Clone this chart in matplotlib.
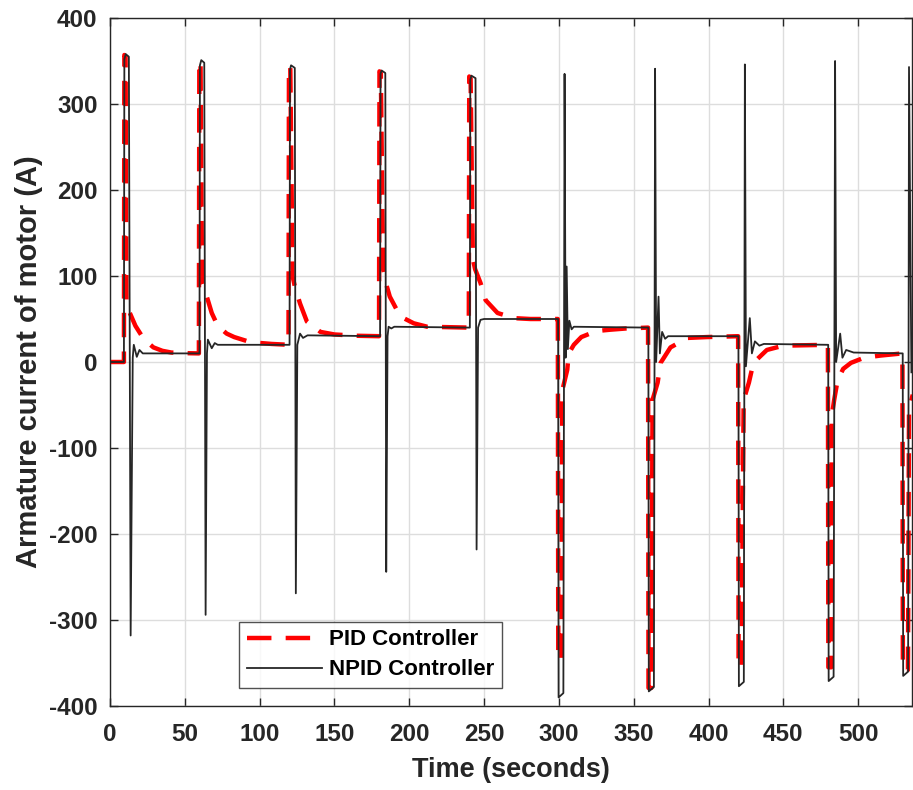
import matplotlib
matplotlib.use("Agg")
import matplotlib.pyplot as plt

plt.rcParams['font.family'] = ['Liberation Sans', 'DejaVu Sans']
plt.rcParams['font.weight'] = 'bold'
plt.rcParams['axes.unicode_minus'] = False

# PID controller armature current, breakpoints (time s, current A)
pid_t = [0, 9.3,
         9.6, 10.4, 11.0, 14.0, 17.0, 21.0, 25.0, 29.0, 35.0, 41.0, 50.0, 59.4,
         59.7, 60.5, 61.5, 64.7, 68.0, 72.0, 78.0, 83.0, 94.0, 108.0, 119.3,
         119.6, 120.5, 122.0, 123.5, 127.0, 131.6, 140.6, 150.0, 165.0, 179.8,
         180.1, 181.0, 182.5, 185.0, 187.0, 194.0, 203.0, 212.0, 239.8,
         240.1, 241.0, 242.5, 244.0, 247.6, 251.0, 259.0, 270.0, 281.0, 299.3,
         299.6, 301.6, 302.3, 305.6, 306.6, 310.0, 315.0, 325.0, 334.0, 345.0, 359.6,
         359.9, 361.8, 362.6, 366.0, 368.0, 374.6, 386.0, 399.0, 419.8,
         420.1, 422.0, 423.5, 427.0, 430.0, 439.0, 450.0, 479.8,
         480.1, 482.0, 482.3, 484.0, 486.3, 490.0, 495.2, 504.0, 515.0, 529.6,
         529.9, 533.3, 534.0, 536.5]
pid_i = [0, 0,
         357, 355, 66, 54, 42, 31, 23, 17, 13, 11, 10.3, 10,
         350, 348, 95, 76, 57, 42, 33, 29, 23, 21, 20,
         344, 342, 100, 88, 68, 47, 35, 32, 30.5, 30,
         338, 336, 110, 88, 76, 53, 45, 41, 40,
         332, 330, 120, 108, 92, 72, 57, 51, 50, 50,
         -346, -346, -33, -9, 10, 20, 29, 36, 37.5, 39, 40,
         -379, -379, -44, -24, -1, 17, 28, 29, 30,
         -355, -355, -44, -24, -1, 14, 19, 20,
         -355, -355, -64, -44, -21, -8, -1, 5, 7.5, 10,
         -358, -358, -55, -38]

# NPID controller armature current, breakpoints
npid_t = [0, 9.3,
          9.6, 10.5, 12.6, 13.8, 15.2, 15.9, 17.9, 19.7, 21.9, 59.8,
          60.1, 61.0, 63.0, 63.9, 64.8, 65.4, 68.0, 70.0, 72.0, 120.0,
          120.3, 121.0, 123.5, 124.2, 125.2, 127.0, 129.0, 132.0, 180.5,
          180.8, 181.5, 184.0, 184.6, 185.5, 186.2, 188.0, 190.0, 240.5,
          240.8, 241.5, 244.3, 245.0, 246.0, 247.6, 250.0, 299.5,
          299.8, 303.0, 303.8, 304.5, 305.2, 306.0, 307.0, 308.5, 310.0, 359.8,
          360.1, 363.5, 364.3, 365.0, 366.6, 367.5, 369.0, 371.0, 373.0, 420.0,
          420.3, 423.6, 424.3, 425.0, 427.6, 429.0, 431.0, 434.0, 437.0, 480.0,
          480.3, 483.6, 484.6, 485.3, 488.0, 489.5, 492.0, 497.0, 529.8,
          530.1, 533.4, 534.0, 535.6]
npid_i = [0, 0,
          352, 358, 355, -318, 5, 20, 6, 14, 10, 10,
          345, 351, 348, -294, 10, 26, 16, 22, 20, 20,
          340, 345, 342, -269, 20, 33, 28, 31, 30,
          335, 339, 336, -244, 30, 41, 39, 41, 40,
          328, 333, 330, -218, 40, 49, 50, 50,
          -390, -385, 335, 5, 111, 15, 48, 38, 41, 40,
          -383, -378, 341, 0, 76, 10, 35, 27, 30, 30,
          -377, -372, 346, -5, 51, 10, 24, 19, 21, 20,
          -371, -366, 350, 0, 33, 5, 14, 11, 10,
          -365, -360, 343, -12]

x_ticks = [0, 50, 100, 150, 200, 250, 300, 350, 400, 450, 500]
y_ticks = [-400, -300, -200, -100, 0, 100, 200, 300, 400]

fig = plt.figure(figsize=(9.13, 7.90), dpi=100)
ax = fig.add_axes([110 / 913, 84 / 790, 802 / 913, 688 / 790])

ax.plot(pid_t, pid_i, color='#ff0000', lw=3.2, dashes=(5.5, 3.2),
        label='PID Controller')
ax.plot(npid_t, npid_i, color='#262626', lw=1.3, label='NPID Controller')

ax.set_xlim(0, 536)
ax.set_ylim(-400, 400)
ax.set_xticks(x_ticks)
ax.set_yticks(y_ticks)
ax.grid(True, color='#dddddd', lw=1.0)
ax.set_axisbelow(True)

ax.tick_params(direction='in', length=6, width=1, colors='#262626',
               labelsize=17.5, top=True, right=True)
ax.tick_params(axis='x', pad=12)
ax.tick_params(axis='y', pad=9)
for lab in ax.get_xticklabels() + ax.get_yticklabels():
    lab.set_fontweight('bold')
for sp in ax.spines.values():
    sp.set_color('#262626')
    sp.set_linewidth(1.0)

ax.set_xlabel('Time (seconds)', fontsize=19.5, fontweight='bold', color='#262626', labelpad=8)
ax.set_ylabel('Armature current of motor (A)', fontsize=21, fontweight='bold',
              color='#262626', labelpad=4)

leg = ax.legend(loc='lower left', bbox_to_anchor=(0.161, 0.026), fontsize=16,
                handlelength=3.4, frameon=True, fancybox=False, borderpad=0.35,
                labelspacing=0.4, handletextpad=0.3, borderaxespad=0)
leg.get_frame().set_edgecolor('#262626')
leg.get_frame().set_linewidth(1.0)
for t in leg.get_texts():
    t.set_fontweight('bold')

fig.savefig('out.png', dpi=100)
